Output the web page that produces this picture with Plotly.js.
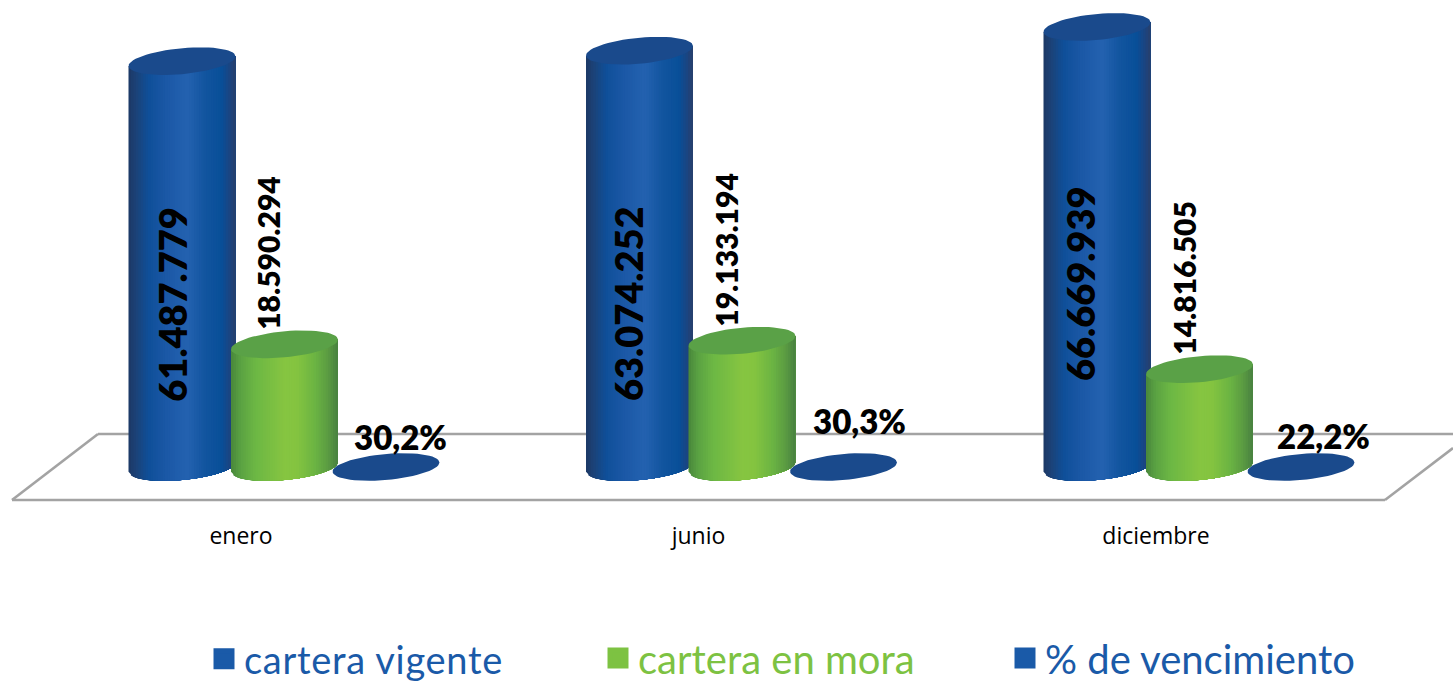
<!DOCTYPE html>
<html><head><meta charset="utf-8">
<script src="https://cdn.plot.ly/plotly-3.0.1.min.js"></script>
<style>html,body{margin:0;padding:0;background:#fff}#c{width:1453px;height:683px}
.legendtext{letter-spacing:.7px}</style>
</head><body><div id="c"></div>
<script>
const categories = ['enero','junio','diciembre'];
const carteraVigente = [61487779, 63074252, 66669939];
const carteraEnMora = [18590294, 19133194, 14816505];
const pctVencimiento = [30.2, 30.3, 22.2];

const W=1453,H=683,plotBottom=520;
const pxPerCat=457.5, zeroPx=467, pxPerUnit=6.6/1e6;
const FONT='Lato, "Open Sans", sans-serif';
const dx=p=>p/pxPerCat, dy=p=>p/pxPerUnit;
const offs={blue:dx(-59),green:dx(43.5),disk:dx(145)};
const a=dx(53.5), b=dy(13), k=dy(4.8);
const blueStops=[[0,'#1c3a68'],[.06,'#1c4277'],[.18,'#0f4f99'],[.35,'#1b58a6'],[.55,'#2462b0'],[.72,'#12559f'],[.88,'#084f98'],[.96,'#1c4480'],[1,'#25406f']];
const greenStops=[[0,'#4b8a3c'],[.08,'#5aa243'],[.22,'#6cb744'],[.5,'#86c541'],[.62,'#84c440'],[.8,'#6ab343'],[.92,'#5a9a42'],[1,'#4a8440']];
const hex=c=>[1,3,5].map(i=>parseInt(c.substr(i,2),16));
function shade(stops,t){
  for(let i=1;i<stops.length;i++) if(t<=stops[i][0]){
    const f=(t-stops[i-1][0])/(stops[i][0]-stops[i-1][0]),A=hex(stops[i-1][1]),B=hex(stops[i][1]);
    return 'rgb('+A.map((v,j)=>Math.round(v+(B[j]-v)*f)).join(',')+')';
  }
  return stops[stops.length-1][1];
}
const fmt=v=>String(v).replace(/\B(?=(\d{3})+$)/g,'.');
const traces=[];
function legendTrace(name,off,vals,color,lg){
  traces.push({type:'scatter',mode:'markers',name,legend:lg,x:vals.map((_,i)=>i+off),y:vals,
    marker:{symbol:'square',size:16,color,line:{color,width:5}},showlegend:true,
    hovertemplate:'%{y}<extra>'+name+'</extra>'});
}
legendTrace('cartera vigente',offs.blue,carteraVigente,'#1a5aa8','legend');
legendTrace('cartera en mora',offs.green,carteraEnMora,'#7dc242','legend2');
legendTrace('% de vencimiento',offs.disk,pctVencimiento,'#1a5aa8','legend3');

function ellipse(cx,cy,xs,ys,aa,bb,kk){
  for(let j=0;j<=60;j++){const t=j/60*2*Math.PI;
    xs.push(cx+aa*Math.cos(t)); ys.push(cy+kk*Math.cos(t)+bb*Math.sin(t));}
  xs.push(null);ys.push(null);
}
function cylinder(off,vals,stops,capColor){
  const N=44;
  for(let s=0;s<N;s++){
    const u0=-1+2*s/N, xs=[],ys=[];
    vals.forEach((v,i)=>{
      const cx=i+off;
      xs.push(cx+a*u0); ys.push(v+k*u0);
      xs.push(cx+a); ys.push(v+k);
      for(let j=0;j<=24;j++){
        const u=1-(1-u0)*j/24;
        xs.push(cx+a*u); ys.push(k*u-b*Math.sqrt(Math.max(0,1-u*u)));
      }
      xs.push(null);ys.push(null);
    });
    const c=shade(stops,s/(N-1));
    traces.push({type:'scatter',mode:'lines',x:xs,y:ys,fill:'toself',fillcolor:c,line:{width:0,color:c},showlegend:false,hoverinfo:'skip'});
  }
  const xs=[],ys=[];
  vals.forEach((v,i)=>ellipse(i+off,v,xs,ys,a,b,k));
  traces.push({type:'scatter',mode:'lines',x:xs,y:ys,fill:'toself',fillcolor:capColor,line:{width:0,color:capColor},showlegend:false,hoverinfo:'skip'});
}
cylinder(offs.blue,carteraVigente,blueStops,'#1a4a8c');
cylinder(offs.green,carteraEnMora,greenStops,'#5aa147');
{const xs=[],ys=[];pctVencimiento.forEach((v,i)=>ellipse(i+offs.disk,v,xs,ys,a,dy(13),dy(4.5)));
 traces.push({type:'scatter',mode:'lines',x:xs,y:ys,fill:'toself',fillcolor:'#1a4a8c',line:{width:0,color:'#1a4a8c'},showlegend:false,hoverinfo:'skip'});}

// label nudges in pixels, kept apart from the data
const blueNudge=[[-10,0],[-11,-3],[-17,7]], greenNudge=[-16,-16,-15], pctNudge=[[14,30],[16,46],[22,31]];
const annotations=[];
carteraVigente.forEach((v,i)=>annotations.push({x:i+offs.blue,y:v*0.4,xshift:blueNudge[i][0],yshift:blueNudge[i][1],text:fmt(v),textangle:-90,showarrow:false,xanchor:'center',yanchor:'middle',font:{family:FONT,size:38,color:'#000',weight:800}}));
carteraEnMora.forEach((v,i)=>annotations.push({x:i+offs.green,y:v+dy(91),xshift:greenNudge[i],text:fmt(v),textangle:-90,showarrow:false,xanchor:'center',yanchor:'middle',font:{family:FONT,size:30,color:'#000',weight:800}}));
pctVencimiento.forEach((v,i)=>annotations.push({x:i+offs.disk,y:v,xshift:pctNudge[i][0],yshift:pctNudge[i][1],text:v.toFixed(1).replace('.',',')+'%',showarrow:false,xanchor:'center',yanchor:'middle',font:{family:FONT,size:33,color:'#000',weight:800}}));

const px=x=>x/W, py=y=>1-y/H;
const floorLine={color:'#a3a3a3',width:2.6};
const shapes=[
 {type:'line',xref:'paper',yref:'paper',x0:px(12),y0:py(500),x1:px(1385),y1:py(500),line:floorLine,layer:'below'},
 {type:'line',xref:'paper',yref:'paper',x0:px(12),y0:py(500),x1:px(98),y1:py(434),line:floorLine,layer:'below'},
 {type:'line',xref:'paper',yref:'paper',x0:px(98),y0:py(434),x1:px(1453),y1:py(434),line:floorLine,layer:'below'},
 {type:'line',xref:'paper',yref:'paper',x0:px(1385),y0:py(500),x1:px(1453),y1:py(448),line:floorLine,layer:'below'}
];
const lg=(x,color,size,yc)=>({x:px(x),xanchor:'left',y:py(yc),yanchor:'middle',bgcolor:'rgba(0,0,0,0)',borderwidth:0,itemwidth:30,font:{family:FONT,size,color}});
const layout={
 width:W,height:H,margin:{l:0,r:0,t:0,b:0,autoexpand:false},paper_bgcolor:'#fff',plot_bgcolor:'#fff',
 xaxis:{range:[-241/pxPerCat,(W-241)/pxPerCat],tickmode:'array',tickvals:categories.map((_,i)=>i),ticktext:categories,
   showgrid:false,zeroline:false,showline:false,ticks:'',ticklen:0,tickfont:{family:'"Open Sans", sans-serif',size:23,color:'#000'},fixedrange:true},
 yaxis:{domain:[1-plotBottom/H,1],range:[-dy(plotBottom-zeroPx),dy(zeroPx)],visible:false,fixedrange:true},
 showlegend:true,legend:lg(204,'#1a5aa8',38,659),legend2:lg(598,'#7dc242',40,658),legend3:lg(1005,'#1a5aa8',40,658),
 annotations,shapes
};
Plotly.newPlot('c',traces,layout,{displayModeBar:false,responsive:false});
</script></body></html>
